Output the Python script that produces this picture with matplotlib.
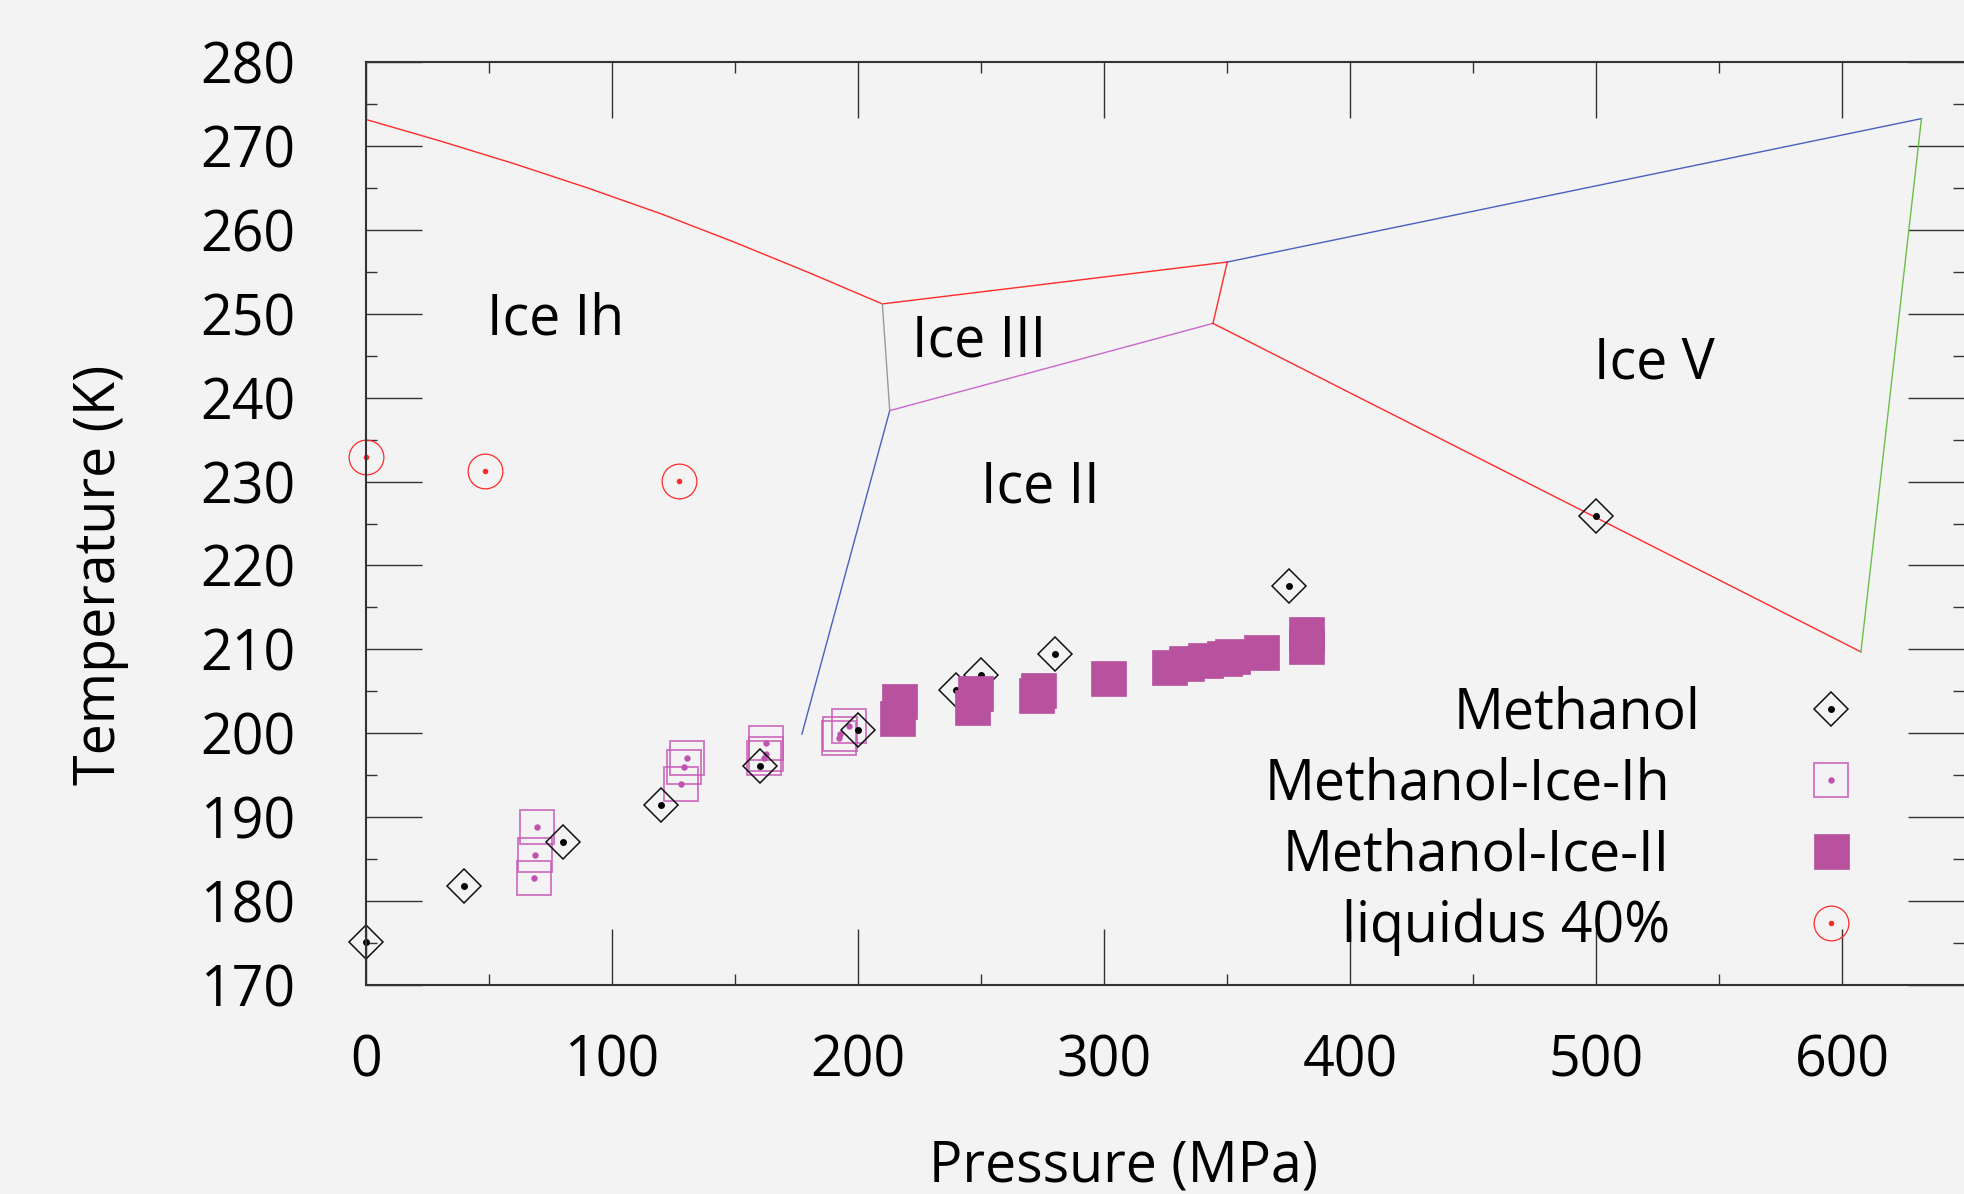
import matplotlib
matplotlib.use("Agg")
import matplotlib.pyplot as plt
from matplotlib.ticker import MultipleLocator

plt.rcParams['font.family'] = ['Open Sans', 'DejaVu Sans']

# ---------------- data ----------------
# phase boundaries of water ice (pressure in MPa, temperature in K)
melt_ih_P = [0, 30, 60, 90, 120, 150, 180, 209.9]
melt_ih_T = [273.15, 270.6, 267.9, 265.0, 261.9, 258.5, 254.9, 251.17]
melt_iii_P = [209.9, 350.1]
melt_iii_T = [251.17, 256.16]
melt_v_P = [350.1, 632.3]
melt_v_T = [256.16, 273.25]
ih_iii_P = [209.9, 212.9]
ih_iii_T = [251.17, 238.45]
ih_ii_P = [212.9, 177.2]
ih_ii_T = [238.45, 199.9]
ii_iii_P = [212.9, 344.3]
ii_iii_T = [238.45, 248.85]
iii_v_P = [344.3, 350.1]
iii_v_T = [248.85, 256.16]
ii_v_P = [344.3, 607.7]
ii_v_T = [248.85, 209.7]
v_vi_P = [607.7, 632.3]
v_vi_T = [209.7, 273.25]

methanol_P = [0, 40, 80, 120, 160, 200, 240, 250, 280, 375, 500]
methanol_T = [175.1, 181.8, 187.1, 191.4, 196.1, 200.4, 205.2, 207.0, 209.4, 217.5, 225.9]

meoh_ih_P = [69.7, 68.8, 68.2, 130.4, 129.1, 128.1, 162.7, 162.6, 161.7, 196.5, 192.6, 192.1]
meoh_ih_T = [188.8, 185.5, 182.8, 197.1, 196.0, 193.9, 198.9, 197.5, 197.0, 200.9, 199.9, 199.4]

meoh_ii_P = [216.5, 216.0, 247.4, 246.5, 273.0, 272.2, 301.6, 326.3, 333.3, 340.9,
             348.7, 352.0, 363.7, 382.0, 382.0]
meoh_ii_T = [203.8, 201.8, 204.8, 203.1, 205.2, 204.6, 206.6, 207.9, 208.4, 208.7,
             209.0, 209.2, 209.7, 211.8, 210.4]

liquidus_P = [0, 48.5, 127.3]
liquidus_T = [232.9, 231.3, 230.1]

phase_names = ["Ice Ih", "Ice III", "Ice II", "Ice V"]
phase_P = [49.1, 222.0, 249.8, 499.0]
phase_T = [247.5, 244.9, 227.5, 242.3]

legend_labels = ['Methanol', 'Methanol-Ice-Ih', 'Methanol-Ice-II', 'liquidus 40%']

x_ticks = [0, 100, 200, 300, 400, 500, 600]
y_ticks = [170, 180, 190, 200, 210, 220, 230, 240, 250, 260, 270, 280]

# ---------------- styling ----------------
BG = '#f3f3f3'
RED = '#ff2a2a'
BLUE = '#4a5fc0'
GREY = '#9a9a9a'
ORCHID = '#cc66cc'
GREEN = '#6cbf4a'
MAGENTA = '#b8529e'
FS = 40

W, H, DPI = 1964, 1194, 100
fig = plt.figure(figsize=(W / DPI, H / DPI), dpi=DPI, facecolor=BG)
ax = fig.add_axes([366 / W, 1 - 985 / H, (W - 366) / W, (985 - 62) / H])
ax.set_facecolor(BG)

lw = 1.0
ax.plot(melt_ih_P, melt_ih_T, color=RED, lw=lw)
ax.plot(melt_iii_P, melt_iii_T, color=RED, lw=lw)
ax.plot(melt_v_P, melt_v_T, color=BLUE, lw=lw)
ax.plot(ih_iii_P, ih_iii_T, color=GREY, lw=lw)
ax.plot(ih_ii_P, ih_ii_T, color=BLUE, lw=lw)
ax.plot(ii_iii_P, ii_iii_T, color=ORCHID, lw=lw)
ax.plot(iii_v_P, iii_v_T, color=RED, lw=lw)
ax.plot(ii_v_P, ii_v_T, color=RED, lw=lw)
ax.plot(v_vi_P, v_vi_T, color=GREEN, lw=lw)

# methanol-ice Ih: open squares with a centre dot
ih_sq, = ax.plot(meoh_ih_P, meoh_ih_T, ls='none', marker='s', ms=24.7,
                 mfc='none', mec=(0.78, 0.36, 0.72, 0.85), mew=1.3, clip_on=False)
ih_dot, = ax.plot(meoh_ih_P, meoh_ih_T, ls='none', marker='o', ms=4.6,
                  color='#c052b0', mew=0, clip_on=False)

# methanol: open diamonds with a centre dot
me_d, = ax.plot(methanol_P, methanol_T, ls='none', marker='D', ms=17.3,
                mfc='none', mec='#111111', mew=1.1, clip_on=False)
me_dot, = ax.plot(methanol_P, methanol_T, ls='none', marker='o', ms=5.0,
                  color='black', mew=0, clip_on=False)

# methanol-ice II: filled squares
ii_sq, = ax.plot(meoh_ii_P, meoh_ii_T, ls='none', marker='s', ms=25.2,
                 color=MAGENTA, mec=MAGENTA, mew=0.5, clip_on=False)

# 40% liquidus: open circles with a centre dot
liq_c, = ax.plot(liquidus_P, liquidus_T, ls='none', marker='o', ms=25,
                 mfc='none', mec=RED, mew=0.9, clip_on=False)
liq_dot, = ax.plot(liquidus_P, liquidus_T, ls='none', marker='o', ms=4.0,
                   color=RED, mew=0, clip_on=False)

for name, p, t in zip(phase_names, phase_P, phase_T):
    ax.text(p, t, name, fontsize=FS, ha='left', va='baseline', color='black')

ax.set_xlim(0, (W - 366) / 2.46)
ax.set_ylim(170, 280)
ax.set_xticks(x_ticks)
ax.set_yticks(y_ticks)
ax.xaxis.set_minor_locator(MultipleLocator(50))
ax.yaxis.set_minor_locator(MultipleLocator(5))

ax.tick_params(which='both', direction='in', top=True, right=True,
               color='#333333', width=1.0, labelsize=FS)
ax.tick_params(which='major', length=40.3)
ax.tick_params(which='minor', length=8)
ax.tick_params(axis='x', which='major', pad=35)
ax.tick_params(axis='y', which='major', pad=51)

for side in ('left', 'top', 'bottom'):
    ax.spines[side].set_linewidth(1.5)
    ax.spines[side].set_color('#333333')
ax.spines['right'].set_visible(False)

fig.text(1124 / W, 1 - 1182 / H, 'Pressure (MPa)', fontsize=FS,
         ha='center', va='baseline')
fig.text(115 / W, 1 - 575 / H, 'Temperature (K)', fontsize=FS, rotation=90,
         rotation_mode='anchor', ha='center', va='baseline')

leg = ax.legend([(me_d, me_dot), (ih_sq, ih_dot), ii_sq, (liq_c, liq_dot)],
                legend_labels,
                loc='center right', bbox_to_anchor=(1859 / W, 1 - 821 / H),
                bbox_transform=fig.transFigure, frameon=False, markerfirst=False,
                fontsize=FS, handlelength=1.0, handletextpad=2.4,
                labelspacing=0.25, borderpad=0, borderaxespad=0, numpoints=1)

# the first legend entry sits a little closer to its marker
try:
    first_entry = leg._legend_handle_box.get_children()[0].get_children()[0]
    first_entry.sep = 2.4 * FS - 21.6
except (AttributeError, IndexError):
    pass

fig.savefig('out.png', dpi=DPI, facecolor=BG)
